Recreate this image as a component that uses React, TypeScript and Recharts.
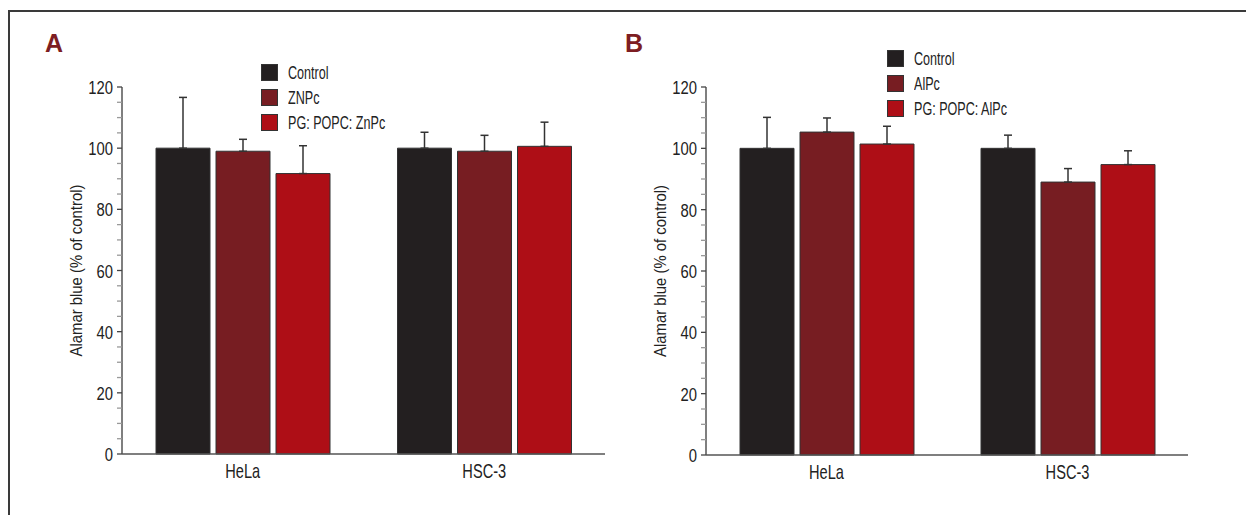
import { BarChart, Bar, XAxis, YAxis, ErrorBar, Legend } from 'recharts';

const categories = ['HeLa', 'HSC-3'];
const colors = ['#231F20', '#771D22', '#AE0E16'];

// panel A
const seriesA = ['Control', 'ZNPc', 'PG: POPC: ZnPc'];
const aControl = [100, 100];
const aControlErr = [16.6, 5.2];
const aZnpc = [99, 99];
const aZnpcErr = [3.9, 5.2];
const aLipo = [91.7, 100.6];
const aLipoErr = [9.1, 7.9];

// panel B
const seriesB = ['Control', 'AlPc', 'PG: POPC: AlPc'];
const bControl = [100, 100];
const bControlErr = [10.1, 4.3];
const bAlpc = [105.3, 89];
const bAlpcErr = [4.6, 4.4];
const bLipo = [101.4, 94.7];
const bLipoErr = [5.8, 4.5];

const yTicks = [0, 5, 10, 15, 20, 25, 30, 35, 40, 45, 50, 55, 60, 65, 70, 75, 80, 85, 90, 95, 100, 105, 110, 115, 120];
const boundaryTicks = [0, 1, 2];

const font = '"Liberation Sans", Arial, sans-serif';

function buildRows(vals: number[][], errs: number[][]) {
    return categories.map((name, i) => ({
        name,
        s0: vals[0][i], e0: [0, errs[0][i]],
        s1: vals[1][i], e1: [0, errs[1][i]],
        s2: vals[2][i], e2: [0, errs[2][i]],
    }));
}

const dataA = buildRows([aControl, aZnpc, aLipo], [aControlErr, aZnpcErr, aLipoErr]);
const dataB = buildRows([bControl, bAlpc, bLipo], [bControlErr, bAlpcErr, bLipoErr]);

// condensed text: the original uses a narrow face, so squeeze Liberation Sans horizontally
const CText = (p: any) => {
    const { x, y, size, sx, anchor, rotate, children } = p
    return <text transform={`translate(${x},${y}) rotate(${rotate || 0}) scale(${sx},1)`} textAnchor={anchor}
        fontSize={size} fontFamily={font} fill="#222">{children}</text>
}

const YTick = (p: any) => {
    const { x, y, payload } = p
    const major = payload.value % 20 === 0
    return <g>
        <line x1={x + 3} x2={x + 8} y1={y} y2={y} stroke={major ? '#444' : '#999'} strokeWidth={1.3} />
        {major && <CText x={x - 1} y={y + 7} size={19} sx={0.78} anchor="end">{payload.value}</CText>}
    </g>
}

const XTick = (p: any) => {
    const { x, y, payload } = p
    return <CText x={x} y={y + 16} size={20} sx={0.73} anchor="middle">{payload.value}</CText>
}

const YTitle = (p: any) => {
    const { viewBox } = p
    const cx = viewBox.x + 10
    const cy = viewBox.y + viewBox.height / 2
    return <CText x={cx} y={cy} size={16} sx={0.93} anchor="middle" rotate={-90}>Alamar blue (% of control)</CText>
}

const LegendBox = (p: any) => {
    const { payload, order } = p
    const items = [...(payload || [])].sort((a: any, b: any) => order.indexOf(a.value) - order.indexOf(b.value))
    return <div style={{ display: 'flex', flexDirection: 'column' }}>
        {items.map((item: any) => <div key={item.value} style={{ display: 'flex', alignItems: 'center', height: 25 }}>
            <span style={{ width: 15, height: 15, background: item.color, border: '1px solid #333', marginRight: 10, flex: 'none' }} />
            <span style={{ fontSize: 18.5, fontFamily: font, color: '#222', whiteSpace: 'nowrap', display: 'inline-block', transform: 'scaleX(0.68)', transformOrigin: 'left center' }}>{item.value}</span>
        </div>)}
    </div>
}

type PanelProps = {
    data: any[];
    names: string[];
    left: number;
    width: number;
    bottom: number;
    legendTop: number;
    legendLeft: number;
}

function Panel(props: PanelProps) {
    const { data, names, left, width, bottom, legendTop, legendLeft } = props
    return <div style={{ position: 'absolute', left, top: 0 }}>
        <BarChart width={width} height={515} data={data} barGap={6} barSize={54}
            margin={{ top: 87, right: 15, left: 72, bottom }}>
            <XAxis xAxisId="bounds" type="number" domain={[0, 2]} ticks={boundaryTicks} interval={0}
                height={0} axisLine={false} tick={false} tickSize={5} tickLine={{ stroke: '#555', strokeWidth: 1.5 }} allowDataOverflow />
            <XAxis xAxisId="cat" dataKey="name" height={30} interval={0} tickLine={false} tickSize={5} tickMargin={3}
                axisLine={{ stroke: '#555', strokeWidth: 1.5 }} tick={<XTick />} />
            <YAxis width={50} domain={[0, 120]} ticks={yTicks} interval={0} tickSize={5} tickMargin={3} tickLine={false}
                axisLine={{ stroke: '#555', strokeWidth: 1.5 }} tick={<YTick />}
                label={<YTitle />} />
            <Legend layout="vertical" align="center" verticalAlign="middle" content={<LegendBox order={names} />}
                wrapperStyle={{ top: legendTop, left: legendLeft, width: 'auto' }} />
            {names.map((n, i) => <Bar key={n} xAxisId="cat" dataKey={'s' + i} name={n} fill={colors[i]} stroke="#333" strokeWidth={1} isAnimationActive={false}>
                <ErrorBar dataKey={'e' + i} width={4} stroke="#333" strokeWidth={1.5} />
            </Bar>)}
        </BarChart>
    </div>
}

const letterStyle: any = { position: 'absolute', top: 31, fontSize: 25, lineHeight: '25px', fontWeight: 'bold', color: '#7D1D22', fontFamily: font }

export default function App() {
    return <div style={{ position: 'absolute', left: 0, top: 0, width: 1246, height: 515, background: '#fff', overflow: 'hidden' }}>
        <div style={{ position: 'absolute', left: 8, top: 10, right: 0, bottom: 0, borderTop: '2px solid #3a3a3a', borderLeft: '2px solid #3a3a3a' }} />
        <div style={{ ...letterStyle, left: 45 }}>A</div>
        <div style={{ ...letterStyle, left: 625 }}>B</div>
        <Panel data={dataA} names={seriesA} left={0} width={620} bottom={31} legendTop={60} legendLeft={261} />
        <Panel data={dataB} names={seriesB} left={584} width={619} bottom={30} legendTop={46} legendLeft={303} />
    </div>
}
